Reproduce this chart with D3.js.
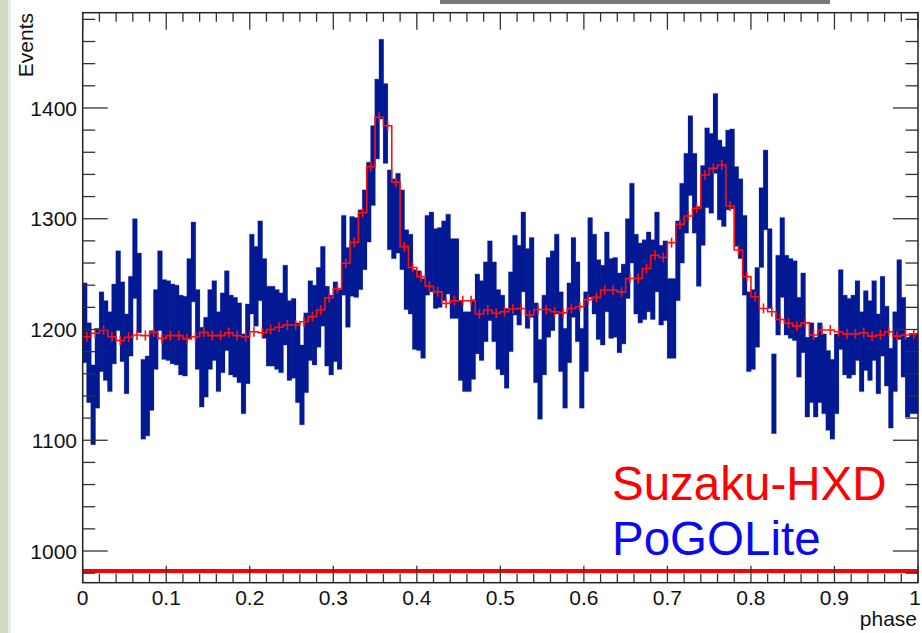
<!DOCTYPE html>
<html>
<head>
<meta charset="utf-8">
<script src="https://cdn.jsdelivr.net/npm/d3@7"></script>
<style>
  body { margin: 0; background: #fff; }
  text { font-family: "Liberation Sans", Arial, sans-serif; }
</style>
</head>
<body>
<svg id="chart" width="922" height="633"></svg>
<script>
// PoGOLite counts, 200 phase bins
var blueVals = [
  1206, 1170, 1132, 1165, 1198, 1190, 1180, 1205, 1235, 1207,
  1178, 1212, 1264, 1233, 1137, 1140, 1163, 1200, 1235, 1209,
  1208, 1205, 1204, 1195, 1194, 1228, 1261, 1200, 1166, 1175,
  1200, 1208, 1180, 1197, 1217, 1195, 1193, 1188, 1160, 1187,
  1250, 1239, 1262, 1228, 1203, 1203, 1200, 1197, 1222, 1190,
  1192, 1170, 1150, 1179, 1208, 1204, 1220, 1239, 1203, 1195,
  1207, 1200, 1267, 1238, 1266, 1265, 1272, 1290, 1315, 1348,
  1390, 1426, 1386, 1308, 1300, 1305, 1290, 1254, 1250, 1218,
  1217, 1210, 1267, 1270, 1255, 1256, 1262, 1268, 1246, 1246,
  1190, 1180, 1180, 1191, 1214, 1208, 1225, 1244, 1225, 1200,
  1195, 1183, 1216, 1249, 1240, 1270, 1237, 1247, 1188, 1155,
  1195, 1229, 1235, 1250, 1198, 1165, 1206, 1247, 1225, 1165,
  1198, 1265, 1250, 1227, 1222, 1252, 1228, 1229, 1215, 1223,
  1264, 1296, 1250, 1242, 1245, 1252, 1245, 1270, 1240, 1244,
  1210, 1210, 1262, 1296, 1323, 1357, 1323, 1275, 1312, 1346,
  1341, 1377, 1335, 1329, 1344, 1345, 1311, 1300, 1267, 1198,
  1200, 1220, 1292, 1326, 1255, 1142, 1231, 1265, 1231, 1228,
  1226, 1193, 1215, 1157, 1170, 1157, 1170, 1160, 1145, 1137,
  1160, 1218, 1195, 1192, 1195, 1208, 1180, 1199, 1190, 1208,
  1178, 1212, 1185, 1147, 1180, 1227, 1193, 1157, 1160, 1160
];
var blueErr = 36;

// Suzaku-HXD template, 100 phase bins
var redVals = [
  1193.5, 1196.6, 1199.5, 1193.5, 1190, 1193, 1195, 1194.5, 1197.5, 1192,
  1194.5, 1194.5, 1191.5, 1193.5, 1197.5, 1194.5, 1194.5, 1197, 1194.5, 1193.5,
  1198, 1197, 1200, 1202, 1204, 1204, 1207, 1211.6, 1217.6, 1228.7,
  1237, 1259.8, 1278.7, 1305.5, 1347, 1391.6, 1384, 1333, 1274.8, 1256,
  1247.7, 1239, 1234, 1223.6, 1226, 1226, 1226, 1214, 1217.6, 1214.6,
  1216, 1218.5, 1219, 1213, 1218, 1218, 1216, 1215, 1219, 1220.6,
  1227, 1229, 1235.7, 1235.7, 1234, 1246, 1246, 1255, 1267, 1265,
  1278.4, 1295, 1302.5, 1309.4, 1339.5, 1345.5, 1348.5, 1311.5, 1271.8, 1247.7,
  1229.6, 1219, 1216, 1209, 1205.6, 1203, 1206, 1195, 1199.5, 1199.5,
  1198, 1196, 1196, 1197, 1194, 1195, 1198, 1194, 1195, 1196
];
var redErr = 4.5;
var redFloor = 982;

var yMajor = [1000, 1100, 1200, 1300, 1400];
var xMajor = [0, 0.1, 0.2, 0.3, 0.4, 0.5, 0.6, 0.7, 0.8, 0.9, 1];
var xLabels = ["0", "0.1", "0.2", "0.3", "0.4", "0.5", "0.6", "0.7", "0.8", "0.9", "1"];
var legendNames = ["Suzaku-HXD", "PoGOLite"];
var legendColors = ["#ff0000", "#0a0af0"];

var svg = d3.select("#chart");
var frameL = 82.7, frameR = 918, frameT = 12.7, frameB = 582.7;

var x = d3.scaleLinear().domain([0, 1]).range([frameL, frameR]);
var y = d3.scaleLinear().domain([971.4, 1486]).range([frameB, frameT]);

// slide leftovers at the edges
svg.append("rect").attr("x", 0).attr("y", 0).attr("width", 8).attr("height", 633).attr("fill", "#d2ddbf");
svg.append("rect").attr("x", 8).attr("y", 0).attr("width", 3).attr("height", 633).attr("fill", "#ececec");
svg.append("rect").attr("x", 440).attr("y", 0).attr("width", 390).attr("height", 4).attr("fill", "#7c7a72");

// blue bins: error bars
var bw = x(1 / 200) - x(0);
var gBlue = svg.append("g");
gBlue.selectAll("rect.halo")
  .data(blueVals)
  .enter()
  .append("rect")
  .attr("class", "halo")
  .attr("x", function(d, i) { return x(i / 200) - 0.6; })
  .attr("width", bw + 1.2)
  .attr("y", function(d) { return y(d + blueErr) - 0.6; })
  .attr("height", function(d) { return y(d - blueErr) - y(d + blueErr) + 1.2; })
  .attr("fill", "#b4bce2");
gBlue.selectAll("rect.bar")
  .data(blueVals)
  .enter()
  .append("rect")
  .attr("class", "bar")
  .attr("x", function(d, i) { return x(i / 200) - 0.3; })
  .attr("width", bw + 0.6)
  .attr("y", function(d) { return y(d + blueErr); })
  .attr("height", function(d) { return y(d - blueErr) - y(d + blueErr); })
  .attr("fill", "#031993");

// red histogram as steps
var redPts = redVals.map(function(d, i) { return [x(i / 100), y(d)]; });
redPts.push([x(1), y(redVals[redVals.length - 1])]);
svg.append("path")
  .attr("d", d3.line().curve(d3.curveStepAfter)(redPts))
  .attr("fill", "none")
  .attr("stroke", "#ff1010")
  .attr("stroke-width", 1.6);
svg.append("g").selectAll("line")
  .data(redVals)
  .enter()
  .append("line")
  .attr("x1", function(d, i) { return x((i + 0.5) / 100); })
  .attr("x2", function(d, i) { return x((i + 0.5) / 100); })
  .attr("y1", function(d) { return y(d - redErr); })
  .attr("y2", function(d) { return y(d + redErr); })
  .attr("stroke", "#ff1010")
  .attr("stroke-width", 1.6);

// red floor line
svg.append("line")
  .attr("x1", frameL).attr("x2", frameR)
  .attr("y1", y(redFloor)).attr("y2", y(redFloor))
  .attr("stroke", "#ff0000")
  .attr("stroke-width", 4);

// frame
svg.append("rect")
  .attr("x", frameL).attr("y", frameT)
  .attr("width", frameR - frameL).attr("height", frameB - frameT)
  .attr("fill", "none")
  .attr("stroke", "#222")
  .attr("stroke-width", 1.5);

// y ticks, both sides, pointing inward
var gTicks = svg.append("g").attr("stroke", "#333").attr("stroke-width", 1.3);
d3.range(980, 1481, 20).forEach(function(v) {
  var len = (v % 100 === 0) ? 25 : 12.5;
  gTicks.append("line").attr("x1", frameL).attr("x2", frameL + len).attr("y1", y(v)).attr("y2", y(v));
  gTicks.append("line").attr("x1", frameR).attr("x2", frameR - len).attr("y1", y(v)).attr("y2", y(v));
});
// x ticks, top and bottom
d3.range(0, 51).forEach(function(k) {
  var p = k / 50;
  var len = (k % 5 === 0) ? 17 : 9;
  gTicks.append("line").attr("x1", x(p)).attr("x2", x(p)).attr("y1", frameB).attr("y2", frameB - len);
  gTicks.append("line").attr("x1", x(p)).attr("x2", x(p)).attr("y1", frameT).attr("y2", frameT + len);
});

// tick labels
svg.append("g").selectAll("text")
  .data(yMajor)
  .enter()
  .append("text")
  .attr("x", 77)
  .attr("y", function(d) { return y(d); })
  .attr("dy", "0.36em")
  .attr("text-anchor", "end")
  .attr("font-size", 21)
  .attr("fill", "#111")
  .text(function(d) { return d; });

svg.append("g").selectAll("text")
  .data(xMajor)
  .enter()
  .append("text")
  .attr("x", function(d) { return Math.min(x(d), 915); })
  .attr("y", 605)
  .attr("text-anchor", "middle")
  .attr("font-size", 21)
  .attr("fill", "#111")
  .text(function(d, i) { return xLabels[i]; });

// axis titles
svg.append("text")
  .attr("transform", "translate(33,13) rotate(-90)")
  .attr("text-anchor", "end")
  .attr("font-size", 21)
  .attr("fill", "#111")
  .text("Events");
svg.append("text")
  .attr("x", 917).attr("y", 626)
  .attr("text-anchor", "end")
  .attr("font-size", 21)
  .attr("fill", "#111")
  .text("phase");

// legend
svg.append("g").selectAll("text")
  .data(legendNames)
  .enter()
  .append("text")
  .attr("x", 612)
  .attr("y", function(d, i) { return 500 + i * 55; })
  .attr("font-size", 47.5)
  .attr("fill", function(d, i) { return legendColors[i]; })
  .text(function(d) { return d; });
</script>
</body>
</html>
